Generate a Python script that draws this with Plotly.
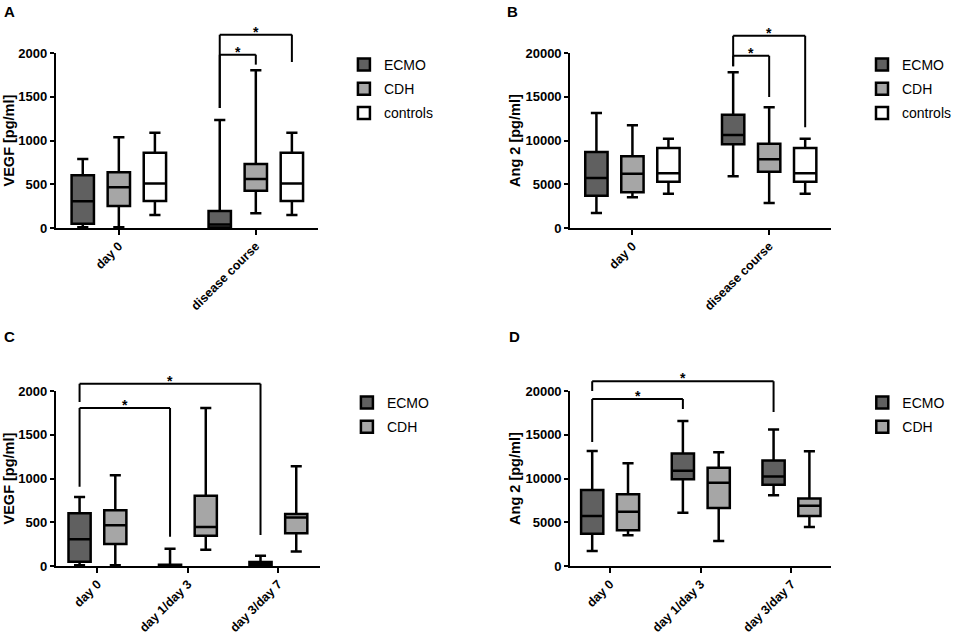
import plotly.graph_objects as go

# categories
cats_ab = ["day 0", "disease course"]
cats_cd = ["day 0", "day 1/day 3", "day 3/day 7"]

# five-number summaries per category: (min, q1, median, q3, max)
vegf_ecmo_ab = [(8, 50, 305, 602, 789), (0, 5, 40, 195, 1235)]
vegf_cdh_ab = [(8, 251, 465, 636, 1036), (168, 427, 560, 731, 1802)]
vegf_ctrl_ab = [(149, 309, 510, 861, 1090), (149, 310, 510, 861, 1090)]

ang2_ecmo_ab = [(1714, 3695, 5714, 8686, 13143), (5905, 9562, 10629, 12952, 17790)]
ang2_cdh_ab = [(3505, 4076, 6210, 8190, 11734), (2857, 6438, 7848, 9638, 13790)]
ang2_ctrl_ab = [(3924, 5295, 6248, 9143, 10210), (3924, 5295, 6248, 9143, 10210)]

vegf_ecmo_cd = [(8, 50, 305, 602, 789), (0, 0, 5, 15, 198), (0, 0, 20, 46, 118)]
vegf_cdh_cd = [(8, 251, 465, 636, 1036), (186, 346, 445, 802, 1806), (167, 373, 555, 593, 1141)]

ang2_ecmo_cd = [(1714, 3695, 5714, 8686, 13143), (6083, 9923, 10874, 12851, 16577), (8098, 9277, 10227, 12052, 15588)]
ang2_cdh_cd = [(3505, 4076, 6210, 8190, 11734), (2852, 6615, 9505, 11216, 13003), (4448, 5703, 6882, 7718, 13117)]

# significance brackets: (cat_from, group_from, cat_to, group_to, bar_y, left_end, right_end)
brackets_a = [(1, 0, 1, 1, 1981, 1371, 1867), (1, 0, 1, 2, 2210, 1371, 1897)]
brackets_b = [(1, 0, 1, 1, 19700, 18480, 14970), (1, 0, 1, 2, 21980, 18480, 11505)]
brackets_c = [(0, 0, 1, 0, 1806, 905, 335), (0, 0, 2, 0, 2083, 1874, 354)]
brackets_d = [(0, 0, 1, 0, 19086, 14181, 17945), (0, 0, 2, 0, 21101, 20000, 17603)]

vegf_ticks = [0, 500, 1000, 1500, 2000]
ang2_ticks = [0, 5000, 10000, 15000, 20000]

COLORS = {"ECMO": "#606060", "CDH": "#a6a6a6", "controls": "#ffffff"}
FONT = "Liberation Sans, Arial, sans-serif"
BOXGAP = 0.21
BOXGROUPGAP = 0.38

W, H = 957, 635

def px_x(a, b):
    return [a / W, b / W]

def px_y(bottom, top):
    return [(H - bottom) / H, (H - top) / H]

panels = [
    dict(key="A", n="", cats=cats_ab, series=[("ECMO", vegf_ecmo_ab), ("CDH", vegf_cdh_ab), ("controls", vegf_ctrl_ab)],
         ticks=vegf_ticks, title="VEGF [pg/ml]", brackets=brackets_a,
         xdom=px_x(56, 319), ydom=px_y(228, 53), xrange=[-0.46, 1.454],
         legend_xy=(345, 49), title_x=9, letter_xy=(10, 11)),
    dict(key="B", n="2", cats=cats_ab, series=[("ECMO", ang2_ecmo_ab), ("CDH", ang2_cdh_ab), ("controls", ang2_ctrl_ab)],
         ticks=ang2_ticks, title="Ang 2 [pg/ml]", brackets=brackets_b,
         xdom=px_x(572, 834), ydom=px_y(228, 53), xrange=[-0.455, 1.455],
         legend_xy=(865, 49), title_x=516, letter_xy=(514, 11)),
    dict(key="C", n="3", cats=cats_cd, series=[("ECMO", vegf_ecmo_cd), ("CDH", vegf_cdh_cd)],
         ticks=vegf_ticks, title="VEGF [pg/ml]", brackets=brackets_c,
         xdom=px_x(56, 321), ydom=px_y(566, 391), xrange=[-0.46, 2.46],
         legend_xy=(348, 387), title_x=9, letter_xy=(10, 336)),
    dict(key="D", n="4", cats=cats_cd, series=[("ECMO", ang2_ecmo_cd), ("CDH", ang2_cdh_cd)],
         ticks=ang2_ticks, title="Ang 2 [pg/ml]", brackets=brackets_d,
         xdom=px_x(572, 834), ydom=px_y(566, 391), xrange=[-0.44, 2.44],
         legend_xy=(865, 387), title_x=516, letter_xy=(516, 336)),
]

fig = go.Figure()
shapes = []
annotations = []
layout = {}

for p in panels:
    xa, ya = "x" + p["n"], "y" + p["n"]
    legend_name = "legend" + p["n"]
    for name, stats in p["series"]:
        fig.add_trace(go.Box(
            x=p["cats"],
            lowerfence=[s[0] for s in stats],
            q1=[s[1] for s in stats],
            median=[s[2] for s in stats],
            q3=[s[3] for s in stats],
            upperfence=[s[4] for s in stats],
            name=name,
            xaxis=xa, yaxis=ya,
            fillcolor=COLORS[name],
            line=dict(color="black", width=2.5),
            whiskerwidth=0.5,
            boxpoints=False,
            offsetgroup=name,
            alignmentgroup=p["key"],
            legend=legend_name,
            legendgroup=p["key"] + name,
        ))

    ymax = p["ticks"][-1]
    layout["xaxis" + p["n"]] = dict(
        domain=p["xdom"], anchor=ya, type="category", categoryorder="array",
        categoryarray=p["cats"], range=p["xrange"], automargin=False,
        showline=True, linecolor="black", linewidth=2,
        ticks="outside", ticklen=5, tickwidth=2, tickcolor="black",
        tickangle=-45, ticklabelstandoff=-1,
        tickfont=dict(family=FONT, size=12.5, color="black", weight="bold"),
        showgrid=False, zeroline=False,
    )
    layout["yaxis" + p["n"]] = dict(
        domain=p["ydom"], anchor=xa, range=[0, ymax], automargin=False,
        tickvals=p["ticks"], ticktext=[str(t) for t in p["ticks"]],
        showline=True, linecolor="black", linewidth=2,
        ticks="outside", ticklen=4, tickwidth=2, tickcolor="black",
        tickfont=dict(family=FONT, size=13, color="black", weight="bold"),
        showgrid=False, zeroline=False,
    )
    lx, ly = p["legend_xy"]
    layout[legend_name] = dict(
        x=lx / W, y=(H - ly) / H, xanchor="left", yanchor="top",
        font=dict(family=FONT, size=14, color="black"),
        bgcolor="rgba(0,0,0,0)", tracegroupgap=3,
    )

    # brackets with stars, positioned at the grouped box centres
    n_groups = len(p["series"])
    slot = (1 - BOXGAP) / n_groups

    def centre(cat, grp):
        return cat + slot * (grp + 0.5) - (1 - BOXGAP) / 2

    ydom_ref = ya + " domain"
    for c0, g0, c1, g1, bar, left_end, right_end in p["brackets"]:
        xl, xr = centre(c0, g0), centre(c1, g1)
        line = dict(color="black", width=2)
        segs = [(xl, left_end, xl, bar), (xl, bar, xr, bar), (xr, bar, xr, right_end)]
        for x0, y0, x1, y1 in segs:
            shapes.append(dict(type="line", xref=xa, yref=ydom_ref,
                               x0=x0, x1=x1, y0=y0 / ymax, y1=y1 / ymax, line=line))
        annotations.append(dict(text="*", xref=xa, yref=ydom_ref, x=(xl + xr) / 2, y=bar / ymax,
                                yanchor="middle", yshift=3, showarrow=False,
                                font=dict(family=FONT, size=14, color="black", weight="bold")))

    annotations.append(dict(text=p["title"], xref="paper", yref=ydom_ref, x=p["title_x"] / W, y=0.5,
                            xanchor="center", yanchor="middle", textangle=-90, showarrow=False,
                            font=dict(family=FONT, size=14.5, color="black", weight="bold")))
    lx, ly = p["letter_xy"]
    annotations.append(dict(text=p["key"], xref="paper", yref="paper", x=lx / W, y=(H - ly) / H,
                            xanchor="center", yanchor="middle", showarrow=False,
                            font=dict(family=FONT, size=15, color="black", weight="bold")))

fig.update_layout(
    template="none",
    width=W, height=H,
    margin=dict(l=0, r=0, t=0, b=0),
    paper_bgcolor="white", plot_bgcolor="white",
    boxmode="group", boxgap=BOXGAP, boxgroupgap=BOXGROUPGAP,
    shapes=shapes, annotations=annotations,
    **layout,
)

# page body has a default 8px margin; drop it so the figure fills the window
fig.write_html("out.html", config={"displayModeBar": False},
               post_script="document.body.style.margin = '0';")
